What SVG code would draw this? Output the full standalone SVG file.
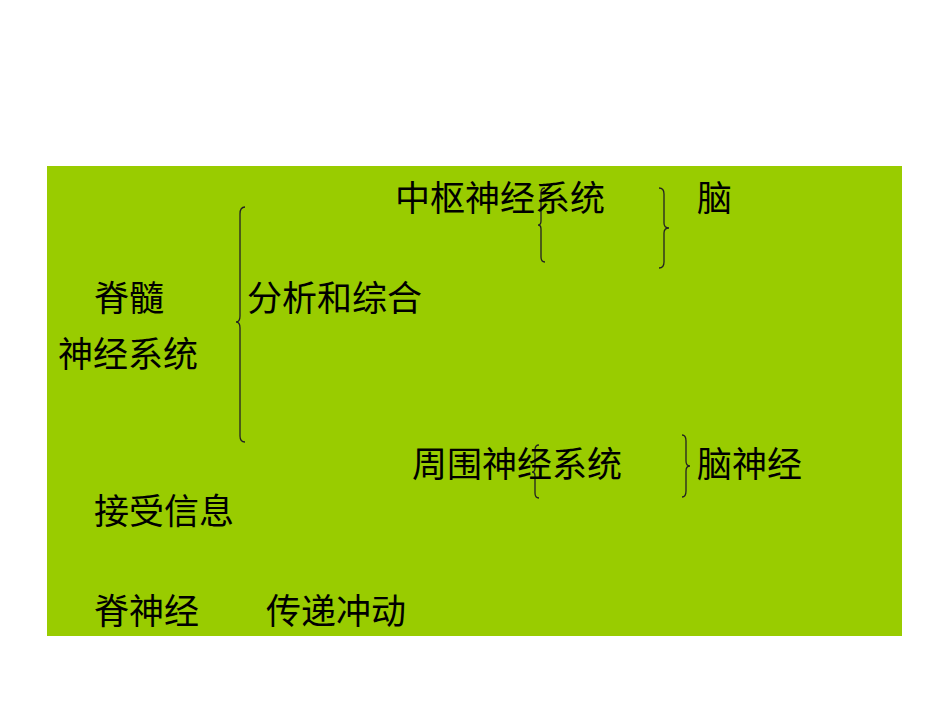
<svg xmlns="http://www.w3.org/2000/svg" width="950" height="713" viewBox="0 0 950 713">
<style>
text{font-family:"Noto Sans CJK SC",sans-serif;font-size:35px;fill:#000}
.b{fill:none;stroke:#222;stroke-width:1.3}
</style>
<rect width="950" height="713" fill="#fff"/>
<rect x="47" y="166" width="855" height="470" fill="#99CC00"/>
<g id="connectors">
<path class="b" d="M245,207 Q240,207 240,214 L240,316 Q240,322 236,322 Q240,322 240,328 L240,436 Q240,442 245,442"/>
<path class="b" d="M545,188 Q541,188 541,193 L541,221 Q541,225 538,225 Q541,225 541,229 L541,257 Q541,262 545,262"/>
<path class="b" d="M659,188 Q664,188 664,194 L664,223 Q664,228 669,228 Q664,228 664,233 L664,262 Q664,268 659,268"/>
<path class="b" d="M539,445 Q535,445 535,450 L535,468 Q535,472 532,472 Q535,472 535,476 L535,493 Q535,498 539,498"/>
<path class="b" d="M682,435 Q686,435 686,441 L686,461 Q686,466 690,466 Q686,466 686,471 L686,491 Q686,497 682,497"/>
</g>
<g id="n1"><text x="395" y="211">中枢神经系统</text></g>
<g id="n2"><text x="697" y="211">脑</text></g>
<g id="n3"><text x="94" y="311">脊髓</text></g>
<g id="n4"><text x="247" y="311">分析和综合</text></g>
<g id="n5"><text x="58" y="367">神经系统</text></g>
<g id="n6"><text x="412" y="477">周围神经系统</text></g>
<g id="n7"><text x="697" y="477">脑神经</text></g>
<g id="n8"><text x="94" y="524">接受信息</text></g>
<g id="n9"><text x="94" y="624">脊神经</text></g>
<g id="n10"><text x="266" y="624">传递冲动</text></g>
</svg>
